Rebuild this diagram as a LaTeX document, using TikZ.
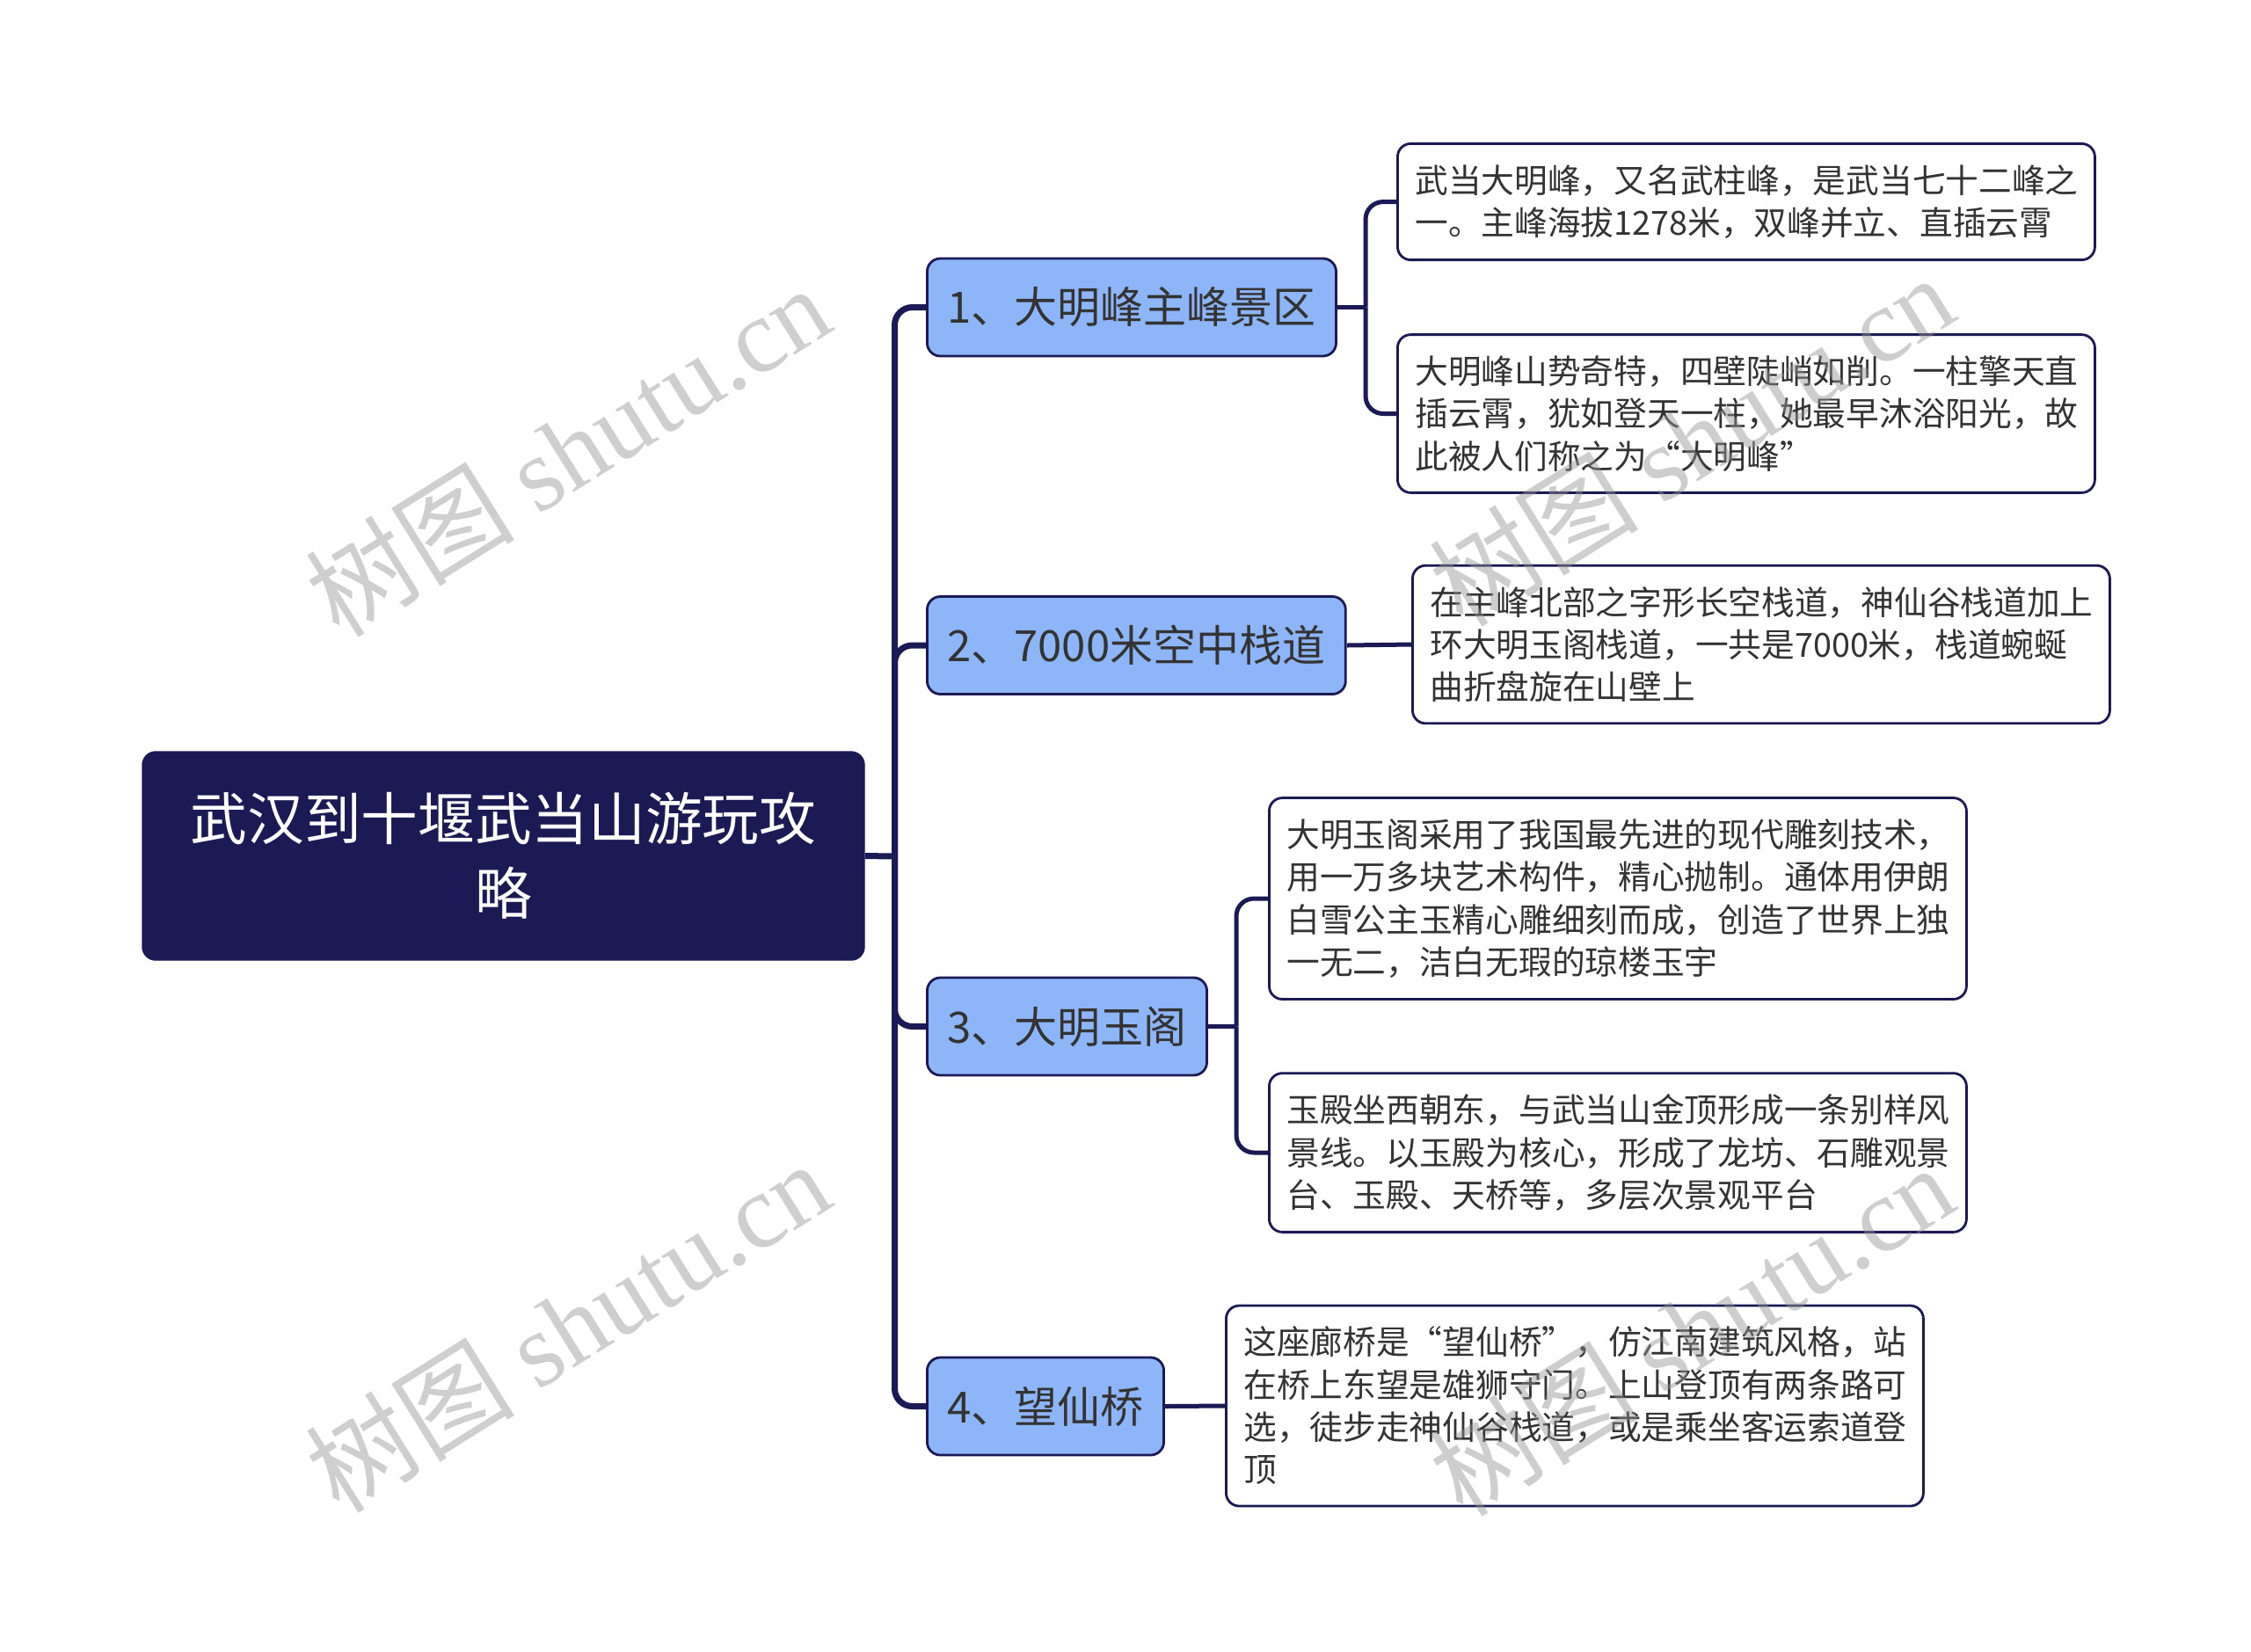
\documentclass[tikz,border=0pt]{standalone}
\usepackage{fontspec}
\setmainfont{Noto Sans CJK SC}
\newfontfamily\wmfont{Liberation Serif}
\usepackage{tikz}
\usetikzlibrary{positioning}
\usepackage{xcolor}
\definecolor{navy}{HTML}{1C1A54}
\definecolor{topicblue}{HTML}{8FB5F9}
\definecolor{textgray}{HTML}{333333}

\begin{document}
\begin{tikzpicture}[
  x=1cm, y=-1cm,
  rootnode/.style={draw=navy, fill=navy, rounded corners=0.15cm, minimum width=8.21cm, minimum height=2.37cm, text=white, align=center, font=\fontsize{18.4}{24.2}\selectfont},
  topic/.style={draw=navy, line width=0.8pt, fill=topicblue, rounded corners=0.15cm, minimum height=1.11cm, inner xsep=0.23cm, anchor=west, text=textgray, font=\fontsize{13.94}{16}\selectfont},
  leaf/.style={draw=navy, line width=0.8pt, fill=white, rounded corners=0.15cm, anchor=west, text width=7.53cm, inner xsep=0.2cm, inner ysep=0.24cm, align=left, text=textgray, font=\fontsize{10.73}{13.75}\selectfont},
  link/.style={draw=navy, line width=0.07cm, rounded corners=0.2cm},
  sublink/.style={draw=navy, line width=0.05cm, rounded corners=0.2cm},
  wmark/.style={rotate=32, text=black!42, text opacity=0.45, font=\fontsize{34}{34}\selectfont}
]
  \useasboundingbox (0,0) rectangle (25.6,18.78);

  \node[rootnode] (root) at (5.725,9.735) {武汉到十堰武当山游玩攻\\略};

  \node[topic] (b1) at (10.53,3.495) {1、大明峰主峰景区};
  \node[topic] (b2) at (10.53,7.34) {2、7000米空中栈道};
  \node[topic] (b3) at (10.53,11.675) {3、大明玉阁};
  \node[topic] (b4) at (10.53,15.995) {4、望仙桥};

  \node[leaf] (l1a) at (15.88,2.295) {武当大明峰，又名武柱峰，是武当七十二峰之\\一。主峰海拔1278米，双峰并立、直插云霄};
  \node[leaf] (l1b) at (15.88,4.705) {大明峰山势奇特，四壁陡峭如削。一柱擎天直\\插云霄，犹如登天一柱，她最早沐浴阳光，故\\此被人们称之为“大明峰”};
  \node[leaf] (l2) at (16.05,7.33) {在主峰北部之字形长空栈道，神仙谷栈道加上\\环大明玉阁栈道，一共是7000米，栈道蜿蜒\\曲折盘旋在山壁上};
  \node[leaf] (l3a) at (14.42,10.22) {大明玉阁采用了我国最先进的现代雕刻技术，\\用一万多块艺术构件，精心抛制。通体用伊朗\\白雪公主玉精心雕细刻而成，创造了世界上独\\一无二，洁白无瑕的琼楼玉宇};
  \node[leaf] (l3b) at (14.42,13.11) {玉殿坐西朝东，与武当山金顶形成一条别样风\\景线。以玉殿为核心，形成了龙坊、石雕观景\\台、玉殿、天桥等，多层次景观平台};
  \node[leaf] (l4) at (13.93,15.99) {这座廊桥是“望仙桥”，仿江南建筑风格，站\\在桥上东望是雄狮守门。上山登顶有两条路可\\选，徒步走神仙谷栈道，或是乘坐客运索道登\\顶};

  % trunk
  \coordinate (hub) at (10.175,9.74);
  \draw[link] (root.east) -- (hub);
  \foreach \b in {b1,b2,b3,b4}
    \draw[link] (hub) |- (\b.west);

  % sub branches
  \coordinate (h1) at (15.53,3.495);
  \coordinate (h3) at (14.06,11.675);
  \draw[sublink] (b1.east) -- (h1);
  \draw[sublink] (h1) |- (l1a.west);
  \draw[sublink] (h1) |- (l1b.west);
  \draw[sublink] (b2.east) -- (l2.west);
  \draw[sublink] (b3.east) -- (h3);
  \draw[sublink] (h3) |- (l3a.west);
  \draw[sublink] (h3) |- (l3b.west);
  \draw[sublink] (b4.east) -- (l4.west);

  % watermarks
  \node[wmark] (wm1) at (6.45,5.12) {树图 {\wmfont shutu.cn}};
  \node[wmark] (wm2) at (6.45,15.08) {树图 {\wmfont shutu.cn}};
  \node[wmark] (wm3) at (19.23,5.0) {树图 {\wmfont shutu.cn}};
  \node[wmark] (wm4) at (19.23,15.12) {树图 {\wmfont shutu.cn}};
\end{tikzpicture}
\end{document}
